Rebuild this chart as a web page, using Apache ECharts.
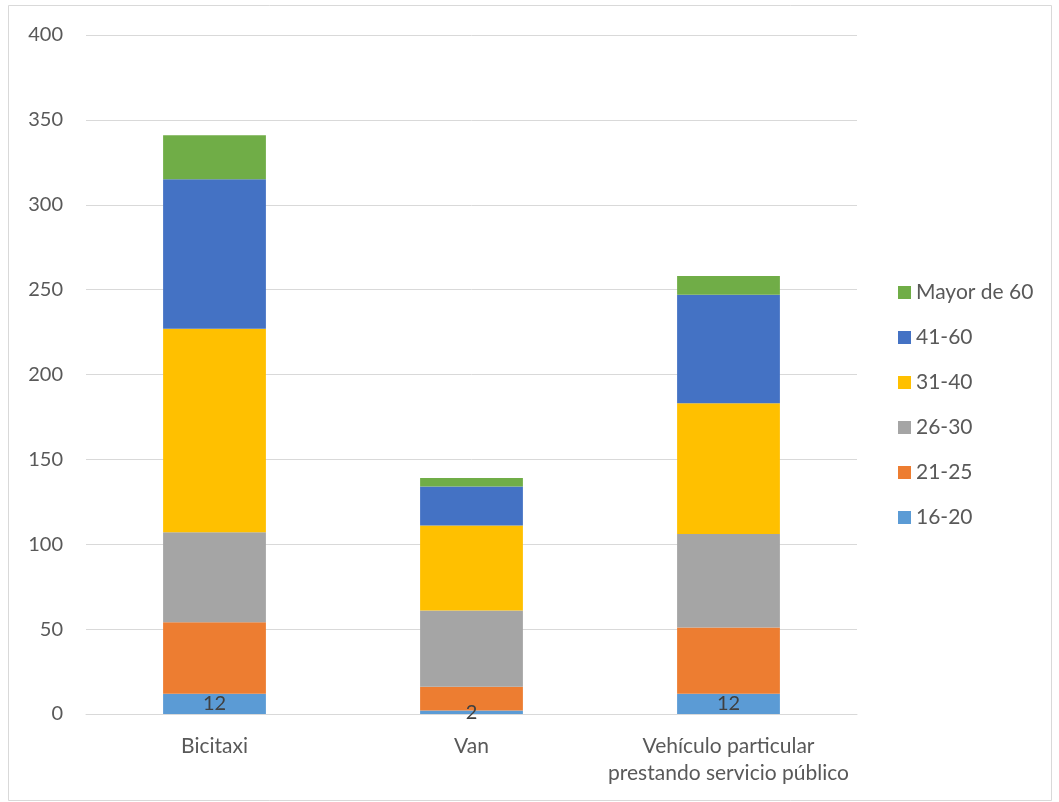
<!DOCTYPE html>
<html>
<head>
<meta charset="utf-8">
<script src="https://cdn.jsdelivr.net/npm/echarts@6/dist/echarts.min.js"></script>
<style>
  html, body { margin: 0; padding: 0; background: #fff; }
  #chart { width: 1059px; height: 802px; }
</style>
</head>
<body>
<div id="chart"></div>
<script>
// Vehicle types along the x axis
const categories = ['Bicitaxi', 'Van', 'Vehículo particular\nprestando servicio público'];

// Age groups (stack order, bottom to top)
const ageGroups = ['16-20', '21-25', '26-30', '31-40', '41-60', 'Mayor de 60'];

// Counts per age group for each vehicle type
const age16to20 = [12, 2, 12];
const age21to25 = [42, 14, 39];
const age26to30 = [53, 45, 55];
const age31to40 = [120, 50, 77];
const age41to60 = [88, 23, 64];
const ageOver60 = [26, 5, 11];

const yTicks = { min: 0, max: 400, interval: 50 };

const groupValues = [age16to20, age21to25, age26to30, age31to40, age41to60, ageOver60];
const groupColors = ['#5B9BD5', '#ED7D31', '#A5A5A5', '#FFC000', '#4472C4', '#70AD47'];

const fontFamily = 'Lato, "Open Sans", sans-serif';

const series = ageGroups.map((name, i) => ({
  name: name,
  type: 'bar',
  stack: 'total',
  barWidth: '40%',
  data: groupValues[i],
  itemStyle: { color: groupColors[i] },
  label: i === 0 ? {
    show: true,
    position: 'inside',
    color: '#404040',
    fontSize: 20,
    fontFamily: fontFamily
  } : { show: false }
}));

const chart = echarts.init(document.getElementById('chart'));
chart.setOption({
  animation: false,
  backgroundColor: '#fff',
  graphic: [{
    type: 'rect',
    shape: { x: 8.5, y: 5.5, width: 1043, height: 795 },
    style: { fill: 'none', stroke: '#d9d9d9', lineWidth: 1 },
    silent: true
  }],
  grid: { left: 86, right: 202, top: 35, bottom: 88, containLabel: false },
  legend: {
    orient: 'vertical',
    left: 898,
    top: 282,
    padding: 0,
    itemWidth: 13,
    itemHeight: 13,
    itemGap: 24,
    icon: 'rect',
    data: ageGroups.slice().reverse(),
    textStyle: { fontSize: 21, color: '#595959', fontFamily: fontFamily, lineHeight: 21 }
  },
  xAxis: {
    type: 'category',
    data: categories,
    axisLine: { lineStyle: { color: '#d9d9d9', width: 1 } },
    axisTick: { show: false },
    axisLabel: {
      color: '#595959',
      fontSize: 21,
      fontFamily: fontFamily,
      lineHeight: 27,
      margin: 19,
      interval: 0
    }
  },
  yAxis: {
    type: 'value',
    min: yTicks.min,
    max: yTicks.max,
    interval: yTicks.interval,
    axisLine: { show: false },
    axisTick: { show: false },
    splitLine: { lineStyle: { color: '#d9d9d9', width: 1 } },
    axisLabel: {
      color: '#595959',
      fontSize: 20,
      fontFamily: fontFamily,
      margin: 23
    }
  },
  series: series
});
</script>
</body>
</html>
